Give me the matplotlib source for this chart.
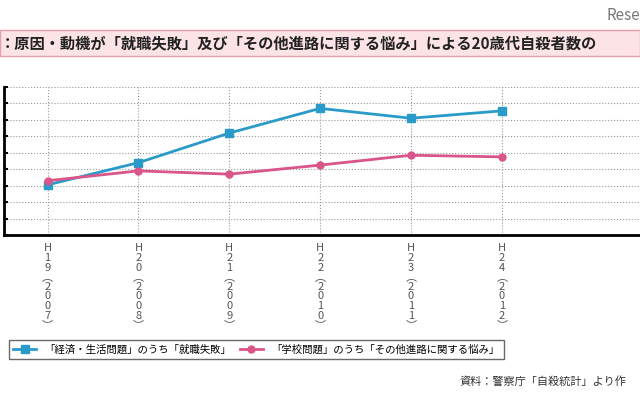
import matplotlib.pyplot as plt
from matplotlib.patches import Rectangle

plt.rcParams['font.family'] = ['Noto Sans CJK JP', 'DejaVu Sans']

years = ['H19(2007)', 'H20(2008)', 'H21(2009)', 'H22(2010)', 'H23(2011)', 'H24(2012)']
job_failure = [61, 88, 124, 154, 142, 151]
career_worry = [66, 78, 74, 85, 97, 95]

def vertical(label):
    return '\n'.join(label.replace('(', '︵').replace(')', '︶'))

fig = plt.figure(figsize=(6.4, 4.0), dpi=100)
ax = fig.add_axes([4/640, 1 - 235/400, 1 - 4/640, 148/400])

x = range(len(years))
ax.plot(x, job_failure, color='#2a9bc9', lw=2, marker='s', ms=6, label='「経済・生活問題」のうち「就職失敗」')
ax.plot(x, career_worry, color='#d9558a', lw=2, marker='o', ms=5, label='「学校問題」のうち「その他進路に関する悩み」')

ax.set_xlim(-0.48, 6.52)
ax.set_ylim(0, 180)
ax.set_yticks(range(0, 181, 20))
ax.set_yticklabels([])
ax.tick_params(axis='y', length=3, width=1.5, direction='in')
ax.set_xticks(list(x))
ax.set_xticklabels([vertical(y) for y in years], fontsize=8, color='#555555', linespacing=0.95)
ax.tick_params(axis='x', length=0, pad=6)
ax.grid(True, color='#999999', ls=':', lw=0.8)
for s in ['left', 'bottom']:
    ax.spines[s].set_linewidth(2)
ax.spines['right'].set_visible(False)
ax.spines['top'].set_visible(False)

fig.patches.append(Rectangle((0, 1 - 56/400), 1, 26/400, transform=fig.transFigure,
                             facecolor='#fbe3e6', edgecolor='#e6a0ad', lw=1))
fig.text(0.0, 1 - 43/400, '：原因・動機が「就職失敗」及び「その他進路に関する悩み」による20歳代自殺者数の',
         fontsize=11, fontweight='bold', color='#222222', va='center', ha='left')
fig.text(1.0, 1 - 15/400, 'Rese', fontsize=11, color='#777777', ha='right', va='center')

leg = fig.legend(loc='lower left', bbox_to_anchor=(4/640, 1 - 364/400), fontsize=7.5,
                 frameon=True, fancybox=False, edgecolor='#444444', ncol=2,
                 handlelength=2.2, columnspacing=0.8)
leg.get_frame().set_linewidth(1)
fig.text(460/640, 1 - 382/400, '資料：警察庁「自殺統計」より作', fontsize=8, ha='left', va='center', color='#333333')

fig.savefig('out.png', dpi=100)
